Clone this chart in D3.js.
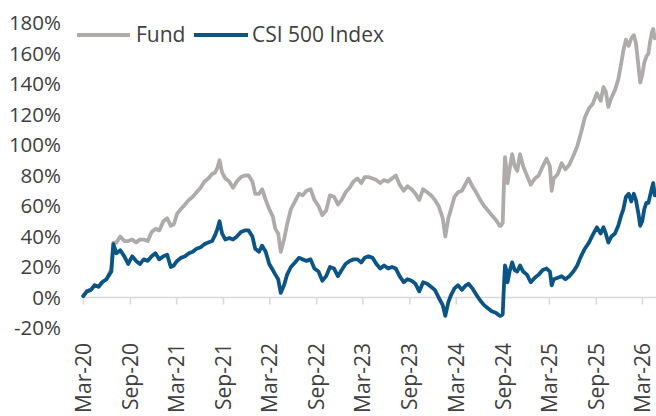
<!DOCTYPE html>
<html>
<head>
<meta charset="utf-8">
<script src="https://cdn.jsdelivr.net/npm/d3@7"></script>
<style>
  html, body { margin: 0; padding: 0; background: #fff; }
  svg { display: block; }
  text { font-family: "Open Sans", "Noto Sans", sans-serif; fill: #404040; }
</style>
</head>
<body>
<svg id="chart" width="656" height="416"></svg>
<script>
// ---- data (cumulative return, %) ----
const dates = [
"2020-03-02","2020-03-16","2020-04-01","2020-04-15","2020-05-01","2020-05-15","2020-06-01","2020-06-20","2020-06-28","2020-07-10",
"2020-07-25","2020-08-10","2020-08-25","2020-09-10","2020-09-25","2020-10-10","2020-10-25","2020-11-10","2020-11-25","2020-12-10",
"2020-12-25","2021-01-10","2021-01-25","2021-02-08","2021-02-20","2021-03-05","2021-03-20","2021-04-05","2021-04-20","2021-05-05",
"2021-05-20","2021-06-05","2021-06-20","2021-07-05","2021-07-20","2021-08-01","2021-08-10","2021-08-18","2021-08-28","2021-09-10",
"2021-09-25","2021-10-10","2021-10-25","2021-11-10","2021-11-25","2021-12-10","2021-12-25","2022-01-05","2022-01-20","2022-02-01",
"2022-02-15","2022-03-01","2022-03-15","2022-03-25","2022-04-05","2022-04-15","2022-04-28","2022-05-10","2022-05-25","2022-06-10",
"2022-06-25","2022-07-10","2022-07-25","2022-08-10","2022-08-25","2022-09-10","2022-09-25","2022-10-10","2022-10-25","2022-11-10",
"2022-11-25","2022-12-10","2022-12-25","2023-01-10","2023-01-25","2023-02-10","2023-02-25","2023-03-10","2023-03-25","2023-04-10",
"2023-04-25","2023-05-10","2023-05-25","2023-06-10","2023-06-25","2023-07-10","2023-07-25","2023-08-10","2023-08-25","2023-09-10",
"2023-09-25","2023-10-10","2023-10-25","2023-11-10","2023-11-25","2023-12-10","2023-12-25","2024-01-10","2024-01-20","2024-02-01",
"2024-02-10","2024-02-25","2024-03-10","2024-03-25","2024-04-10","2024-04-20","2024-05-05","2024-05-20","2024-06-05","2024-06-20",
"2024-07-05","2024-07-20","2024-08-05","2024-08-20","2024-08-25","2024-09-01","2024-09-06","2024-09-10","2024-09-15","2024-09-20",
"2024-09-28","2024-10-08","2024-10-18","2024-10-28","2024-11-08","2024-11-20","2024-12-05","2024-12-20","2025-01-05","2025-01-20",
"2025-02-05","2025-02-20","2025-03-05","2025-03-12","2025-03-20","2025-04-05","2025-04-20","2025-05-05","2025-05-20","2025-06-05",
"2025-06-20","2025-07-05","2025-07-20","2025-08-05","2025-08-20","2025-09-05","2025-09-20","2025-10-01","2025-10-10","2025-10-20",
"2025-11-01","2025-11-15","2025-11-28","2025-12-08","2025-12-18","2025-12-28","2026-01-08","2026-01-18","2026-01-28","2026-02-05",
"2026-02-15","2026-02-22","2026-03-02","2026-03-10","2026-03-18","2026-03-26","2026-04-02","2026-04-09","2026-04-14","2026-04-20"
];
const fund = [
1,4,5,8,7,10,12,19,36,36,
40,37,37,38,36,38,38,37,43,45,
44,50,52,47,48,55,58,61,64,66,
69,72,76,78,81,82,85,90,82,78,
76,72,76,79,80,80,76,68,68,71,
64,58,53,45,42,30,38,48,58,63,
68,67,70,71,64,60,54,57,67,66,
61,64,69,72,76,78,75,79,79,78,
77,75,77,76,78,80,74,70,73,71,
68,64,71,69,67,64,60,52,40,52,
57,66,69,70,75,78,73,69,64,60,
57,54,51,47,47,49,75,92,85,75,
84,94,86,83,94,86,80,74,78,80,
86,91,86,70,78,81,88,84,87,93,
99,108,118,124,127,134,129,138,135,125,
131,136,143,152,162,169,165,170,172,167,
152,141,146,154,158,160,168,174,176,170
];
const csi500 = [
1,4,5,8,7,10,12,17,35,29,
31,27,22,27,24,22,25,24,27,29,
25,27,28,20,21,24,26,27,29,30,
32,33,35,36,37,41,45,50,42,38,
39,38,40,43,44,44,40,32,30,34,
30,22,18,15,12,3,8,15,20,23,
26,25,24,25,19,17,11,14,20,19,
14,18,22,24,25,25,23,26,27,26,
22,19,21,19,20,19,14,10,12,11,
9,4,10,9,7,5,0,-5,-12,-3,
1,6,8,5,8,9,6,2,-2,-5,
-7,-9,-10,-12,-12,-11,8,21,18,10,
17,23,18,17,21,17,15,10,13,15,
18,19,17,8,12,13,14,12,14,17,
21,27,32,36,41,46,42,46,42,36,
40,42,47,53,58,66,68,63,68,64,
55,47,50,58,62,62,67,72,75,67
];
const seriesNames = ["Fund", "CSI 500 Index"];
const tickDates = ["2020-03-01","2020-09-01","2021-03-01","2021-09-01","2022-03-01","2022-09-01",
                   "2023-03-01","2023-09-01","2024-03-01","2024-09-01","2025-03-01","2025-09-01","2026-03-01"];
const yTicks = [-20, 0, 20, 40, 60, 80, 100, 120, 140, 160, 180];

// ---- drawing ----
const parse = d3.timeParse("%Y-%m-%d");
const svg = d3.select("#chart");
const colors = ["#AFABAB", "#0A5586"];

const x = d3.scaleTime()
  .domain([parse("2020-03-01"), parse("2026-03-01")])
  .range([83, 642]);
const y = d3.scaleLinear().domain([-20, 180]).range([328, 23]);

// y axis labels (no line)
const yAxis = d3.axisLeft(y).tickValues(yTicks).tickSize(0).tickPadding(0)
  .tickFormat(d => d + "%");
const gy = svg.append("g").attr("transform", "translate(61,0)").call(yAxis);
gy.select(".domain").remove();
gy.selectAll("text").style("font-size", "20.5px").attr("fill", "#404040");

// x axis at 0%
const xAxis = d3.axisBottom(x).tickValues(tickDates.map(parse)).tickSize(7)
  .tickFormat(d3.timeFormat("%b-%y"));
const gx = svg.append("g").attr("transform", `translate(0,${y(0)})`).call(xAxis);
gx.select(".domain").attr("stroke", "#D9D9D9").attr("stroke-width", 1.5)
  .attr("d", `M${x.range()[0]},0H656`);
gx.selectAll(".tick line").attr("stroke", "#D9D9D9").attr("stroke-width", 1.5);
gx.selectAll(".tick text")
  .style("font-size", "21px")
  .attr("fill", "#404040")
  .attr("transform", "rotate(-90)")
  .attr("text-anchor", "end")
  .attr("x", -(343 - y(0)))
  .attr("y", 0)
  .attr("dy", "0.35em");

// lines
const parsedDates = dates.map(parse);
const line = d3.line().x((d, i) => x(parsedDates[i])).y(d => y(d));
[fund, csi500].forEach((vals, k) => {
  svg.append("path")
    .attr("d", line(vals))
    .attr("fill", "none")
    .attr("stroke", colors[k])
    .attr("stroke-width", 3.8)
    .attr("stroke-linejoin", "round")
    .attr("stroke-linecap", "round");
});

// legend
const legendItems = [{x0: 77, x1: 130, tx: 136}, {x0: 194, x1: 248, tx: 252}];
legendItems.forEach((l, k) => {
  svg.append("line").attr("x1", l.x0).attr("x2", l.x1).attr("y1", 35).attr("y2", 35)
    .attr("stroke", colors[k]).attr("stroke-width", 3.8);
  svg.append("text").attr("x", l.tx).attr("y", 35).attr("dy", "0.35em")
    .style("font-size", "21px").text(seriesNames[k]);
});
</script>
</body>
</html>
